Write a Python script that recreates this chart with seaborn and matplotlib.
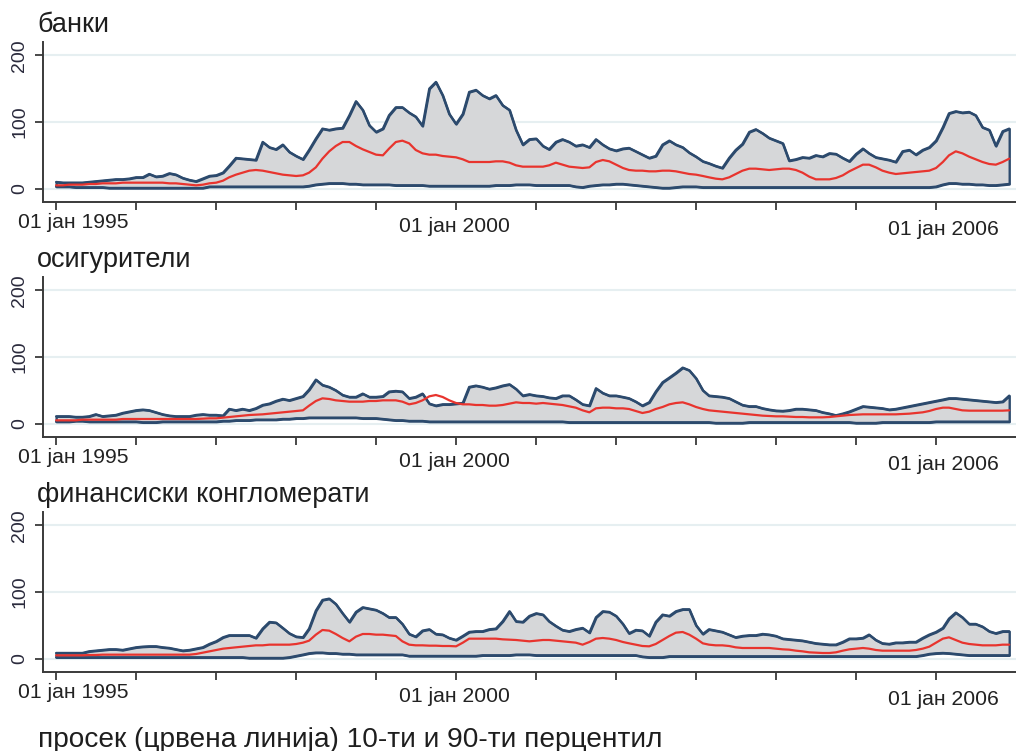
import matplotlib
matplotlib.use("Agg")
import matplotlib.pyplot as plt
import matplotlib.transforms as mtransforms
import numpy as np
import pandas as pd
import seaborn as sns

# Monthly observations, January 1995 - December 2006
months = pd.date_range("1995-01-01", periods=144, freq="MS")

# --- банки ---
banks_p90 = [
    10, 9, 9, 9, 9, 10, 11, 12, 13, 14, 14, 15,
    17, 17, 22, 18, 19, 23, 21, 16, 13, 11, 15, 19,
    20, 24, 34, 46, 45, 44, 43, 70, 62, 59, 66, 55,
    49, 44, 58, 75, 90, 88, 90, 91, 110, 131, 118, 95,
    85, 90, 110, 122, 122, 114, 108, 94, 150, 160, 140, 112,
    97, 112, 145, 148, 140, 135, 140, 125, 118, 88, 66, 74,
    75, 64, 59, 70, 74, 70, 64, 66, 62, 74, 66, 60,
    57, 60, 61, 56, 51, 46, 49, 66, 72, 66, 62, 54,
    48, 41, 38, 34, 31, 46, 58, 67, 85, 89, 83, 76,
    72, 68, 42, 44, 47, 46, 50, 48, 53, 52, 46, 41,
    52, 60, 53, 47, 45, 43, 40, 56, 58, 51, 58, 62,
    72, 92, 113, 116, 114, 115, 110, 92, 88, 64, 86, 90,
]
banks_mean = [
    5, 5, 6, 6, 6, 7, 7, 8, 8, 8, 9, 9,
    9, 9, 9, 9, 9, 8, 8, 7, 6, 5, 6, 8,
    9, 12, 17, 21, 24, 27, 28, 27, 25, 23, 21, 20,
    19, 20, 24, 32, 45, 56, 64, 70, 70, 64, 59, 55,
    51, 50, 60, 70, 72, 68, 58, 53, 51, 51, 49, 48,
    47, 44, 40, 40, 40, 40, 41, 41, 39, 35, 33, 33,
    33, 33, 35, 39, 36, 33, 32, 31, 32, 40, 43, 41,
    36, 31, 28, 27, 27, 26, 26, 27, 27, 26, 24, 22,
    21, 19, 17, 15, 14, 17, 22, 27, 30, 30, 29, 28,
    29, 30, 30, 28, 24, 18, 14, 14, 14, 16, 20, 26,
    31, 36, 36, 32, 27, 24, 22, 23, 24, 25, 26, 27,
    31, 40, 50, 56, 53, 48, 44, 40, 37, 36, 40, 45,
]
banks_p10 = [
    3, 3, 3, 2, 2, 2, 2, 2, 1, 1, 1, 1,
    1, 1, 1, 1, 1, 1, 1, 1, 1, 1, 1, 3,
    3, 3, 3, 3, 3, 3, 3, 3, 3, 3, 3, 3,
    3, 3, 4, 6, 7, 8, 8, 8, 7, 7, 6, 6,
    6, 6, 6, 5, 5, 5, 5, 5, 4, 4, 4, 4,
    4, 4, 4, 4, 4, 4, 5, 5, 5, 6, 6, 6,
    5, 5, 5, 5, 5, 5, 3, 2, 4, 5, 6, 6,
    7, 7, 6, 5, 4, 3, 2, 1, 1, 2, 3, 3,
    3, 2, 2, 2, 2, 2, 2, 2, 2, 2, 2, 2,
    2, 2, 2, 2, 2, 2, 2, 2, 2, 2, 2, 2,
    2, 2, 2, 2, 2, 2, 2, 2, 2, 2, 2, 2,
    3, 6, 8, 8, 7, 7, 6, 6, 5, 5, 6, 7,
]

# --- осигурители ---
insurers_p90 = [
    11, 11, 11, 10, 10, 11, 14, 11, 12, 13, 16, 18,
    20, 21, 20, 17, 14, 12, 11, 11, 11, 13, 14, 13,
    13, 12, 22, 20, 22, 20, 23, 28, 30, 34, 37, 35,
    38, 41, 51, 66, 58, 55, 50, 43, 40, 40, 45, 40,
    40, 41, 48, 49, 48, 38, 40, 45, 30, 27, 29, 29,
    30, 31, 55, 57, 55, 52, 54, 57, 59, 52, 42, 44,
    42, 41, 39, 38, 42, 42, 36, 29, 27, 53, 46, 42,
    42, 40, 38, 33, 27, 32, 48, 62, 69, 76, 84, 80,
    68, 50, 42, 41, 40, 38, 33, 28, 26, 26, 23, 21,
    19.5, 19, 20, 22, 22, 21, 20, 17, 15, 12.5, 15, 18,
    22, 26, 25, 24, 23, 21, 22, 24, 26, 28, 30, 32,
    34, 36, 38, 38, 37, 36, 35, 34, 33, 32, 33, 42,
]
insurers_mean = [
    5, 5, 5, 5, 6, 6, 6, 6, 6, 6, 7, 7,
    7, 7, 7, 7, 7, 7, 7, 7, 7, 7, 7.5, 8,
    8, 9, 10, 11, 12, 13, 13.5, 14, 15, 16, 17, 18,
    19, 20, 27, 34, 38, 37, 35, 34, 33, 33, 33, 34,
    34, 35, 35, 35, 33, 29, 31, 35, 41, 43, 40, 35,
    31, 29, 29, 28, 28, 27, 27, 28, 30, 32, 31, 31,
    30, 31, 30, 29, 28, 26, 24, 20, 17, 23, 24, 24,
    23, 23, 22, 19, 16, 18, 22, 25, 29, 31, 32, 29,
    25, 22, 20, 19, 18, 17, 16, 15, 14, 13, 12, 11.5,
    11, 11, 10.5, 10, 10, 9.5, 9.5, 9.5, 10, 11, 12, 13,
    13.5, 14, 14, 14, 14, 14, 14, 14.5, 15, 16, 17, 19,
    22, 24, 24, 22, 20, 19.5, 19.5, 19.5, 19.5, 19.5, 19.5, 20,
]
insurers_p10 = [
    3, 3, 3, 4, 4, 3, 3, 3, 3, 3, 3, 3,
    3, 2, 2, 2, 3, 3, 3, 3, 3, 3, 3, 3,
    3, 4, 4, 5, 5, 5, 6, 6, 6, 6, 7, 7,
    8, 8, 9, 9, 9, 9, 9, 9, 9, 9, 8, 8,
    8, 7, 6, 5, 5, 4, 4, 4, 3, 3, 3, 3,
    3, 3, 3, 3, 3, 3, 3, 3, 3, 3, 3, 3,
    3, 3, 3, 3, 3, 2, 2, 2, 2, 2, 2, 2,
    2, 2, 2, 2, 2, 2, 2, 2, 2, 2, 2, 2,
    2, 2, 2, 1, 1, 1, 1, 1, 2, 2, 2, 2,
    2, 2, 2, 2, 2, 2, 2, 2, 2, 2, 2, 2,
    1, 1, 1, 1, 2, 2, 2, 2, 2, 2, 2, 2,
    3, 3, 3, 3, 3, 3, 3, 3, 3, 3, 3, 3,
]

# --- финансиски конгломерати ---
conglomerates_p90 = [
    8.5, 8.5, 8.5, 8.5, 8.5, 11, 12, 13, 14, 14, 13, 15,
    17, 18, 18.5, 18.5, 17, 16, 14, 12, 13, 15, 17, 22,
    26, 32, 35, 35, 35, 35, 31, 45, 55, 54, 46, 38,
    33, 32, 45, 72, 88, 90, 82, 68, 55, 70, 77, 75,
    73, 68, 62, 62, 52, 37, 33, 42, 44, 37, 36, 31,
    28, 34, 40, 41, 41, 44, 45, 56, 71, 56, 55, 64,
    68, 66, 56, 49, 43, 41, 44, 46, 39, 62, 71, 70,
    64, 52, 38, 43, 42, 34, 55, 66, 64, 71, 74, 74,
    50, 37, 44, 42, 40, 36, 32, 34, 35, 35, 37, 36,
    34, 30, 29, 28, 27, 25, 23, 22, 21, 21, 25, 30,
    30, 31, 36, 28, 23, 22, 24, 24, 25, 25, 31, 36,
    40, 46, 60, 69, 62, 52, 52, 48, 41, 38, 41, 41,
]
conglomerates_mean = [
    5, 5, 5, 5, 5, 5.5, 5.5, 6, 6, 6, 6, 6,
    6, 6, 6, 6, 6, 6, 6, 6, 6, 7, 9, 11,
    13, 15, 16, 17, 18, 19, 20, 20, 21, 21, 21, 21,
    22, 24, 27, 36, 43, 42, 37, 31, 26, 33, 37, 37,
    36, 36, 35, 34, 26, 21, 20, 20, 19.5, 19.5, 19, 19,
    18.5, 24, 30, 30, 30, 30, 30, 29, 28.5, 28, 27, 26,
    27, 28, 28, 27, 26, 25, 24, 21, 25, 30, 31, 30,
    28, 25, 23, 21, 19, 18.5, 22, 28, 34, 39, 40, 36,
    30, 23, 21, 20, 20, 19, 17, 16, 16, 16, 16, 16,
    15, 14, 13.5, 12, 11, 9.5, 9, 8.5, 8.5, 9.5, 12, 14,
    15, 16, 15, 13, 12, 12, 12, 12, 12, 13, 15, 18,
    24, 30, 32, 28, 24, 22, 21, 20, 20, 20, 21, 21,
]
conglomerates_p10 = [
    2, 2, 2, 2, 2, 2, 2, 2, 2, 2, 2, 2,
    2, 2, 2, 2, 2, 2, 2, 2, 2, 2, 2, 2,
    2, 2, 2, 2, 2, 1, 1, 1, 1, 1, 1, 2,
    4, 6, 8, 9, 9, 8, 8, 7, 7, 6, 6, 6,
    6, 6, 6, 6, 6, 4, 4, 4, 4, 4, 4, 4,
    4, 4, 4, 4, 5, 5, 5, 5, 5, 6, 6, 6,
    5, 5, 5, 5, 5, 5, 5, 5, 5, 5, 5, 5,
    5, 5, 5, 5, 3, 2, 2, 2, 3.5, 3.5, 3.5, 3.5,
    3.5, 3.5, 3.5, 3.5, 3.5, 3.5, 3.5, 3.5, 3.5, 3.5, 3.5, 3.5,
    3.5, 3.5, 3.5, 3.5, 3.5, 3.5, 3.5, 3.5, 3.5, 3.5, 3.5, 3.5,
    3.5, 3.5, 3.5, 3.5, 3.5, 3.5, 3.5, 3.5, 3.5, 3.5, 5, 7,
    8, 8.5, 8, 7, 6, 5, 5, 5, 5, 5, 5, 5,
]

panel_titles = ["банки", "осигурители", "финансиски конгломерати"]
panel_series = [
    (banks_p10, banks_mean, banks_p90),
    (insurers_p10, insurers_mean, insurers_p90),
    (conglomerates_p10, conglomerates_mean, conglomerates_p90),
]
tick_years = list(range(1995, 2007))
labeled_years = [1995, 2000, 2006]
y_ticks = [0, 100, 200]
caption = "просек (црвена линија) 10-ти и 90-ти перцентил"

NAVY = "#2c4a6d"
BAND = "#d6d7d9"
RED = "#e8342e"
GRID = "#e6eff1"
AXIS = "#3a3a3a"

sns.set_theme(style="white")
plt.rcParams["font.family"] = ["Liberation Sans", "DejaVu Sans"]

W, H = 1016, 751
fig = plt.figure(figsize=(W / 100, H / 100), dpi=100)

# axes boxes in pixels: (top, bottom)
boxes = [(42, 202), (277, 437), (512, 672)]
left_px = 43
# per-label nudges (dx, dy) in pixels for the staggered date labels
label_nudge = {1995: (17, 0), 2000: (-2, 4), 2006: (7, 7)}

x_left = pd.Timestamp("1994-11-02")
x_right = pd.Timestamp("2007-01-01")

for (top, bottom), title, (p10, mean, p90) in zip(boxes, panel_titles, panel_series):
    ax = fig.add_axes([left_px / W, (H - bottom) / H, (W - left_px) / W, (bottom - top) / H])
    ax.set_axisbelow(True)

    ax.fill_between(months, p10, p90, facecolor=BAND, edgecolor=NAVY,
                    linewidth=1.7, zorder=2)
    sns.lineplot(x=months, y=p90, ax=ax, color=NAVY, linewidth=1.7, zorder=3)
    sns.lineplot(x=months, y=p10, ax=ax, color=NAVY, linewidth=1.7, zorder=3)
    sns.lineplot(x=months, y=mean, ax=ax, color=RED, linewidth=1.6, zorder=4)

    ax.set_xlim(x_left, x_right)
    ax.set_ylim(-20, 220)
    ax.set_xlabel("")
    ax.set_ylabel("")

    ax.set_yticks(y_ticks)
    ax.set_yticklabels([str(v) for v in y_ticks])
    ax.yaxis.grid(True, color=GRID, linewidth=1.5)
    ax.xaxis.grid(False)

    ax.set_xticks([pd.Timestamp(f"{y}-01-01") for y in tick_years])
    ax.set_xticklabels([f"01 јан {y}" if y in labeled_years else "" for y in tick_years])

    for side in ("top", "right"):
        ax.spines[side].set_visible(False)
    for side in ("left", "bottom"):
        ax.spines[side].set_color(AXIS)
        ax.spines[side].set_linewidth(1.4)

    ax.tick_params(axis="x", direction="out", length=5.5, width=1.3, color=AXIS,
                   pad=2.5, labelsize=15.2, labelcolor="#222222", bottom=True)
    ax.tick_params(axis="y", direction="out", length=5.5, width=1.3, color=AXIS,
                   pad=5, labelsize=14, labelcolor="#2a2a3c", left=True,
                   labelrotation=90)
    for lbl in ax.get_yticklabels():
        lbl.set_va("center")

    for lbl, yr in zip(ax.get_xticklabels(), tick_years):
        if yr in label_nudge:
            dx, dy = label_nudge[yr]
            lbl.set_transform(lbl.get_transform() +
                              mtransforms.ScaledTranslation(dx / 100, -dy / 100,
                                                            fig.dpi_scale_trans))

    fig.text(37 / W, (H - (top - 10)) / H, title, fontsize=19.5, color="#1e1e1e",
             ha="left", va="baseline")

fig.text(38 / W, (H - 747) / H, caption, fontsize=20.2, color="#1e1e1e",
         ha="left", va="baseline")

fig.savefig("out.png", dpi=100)
